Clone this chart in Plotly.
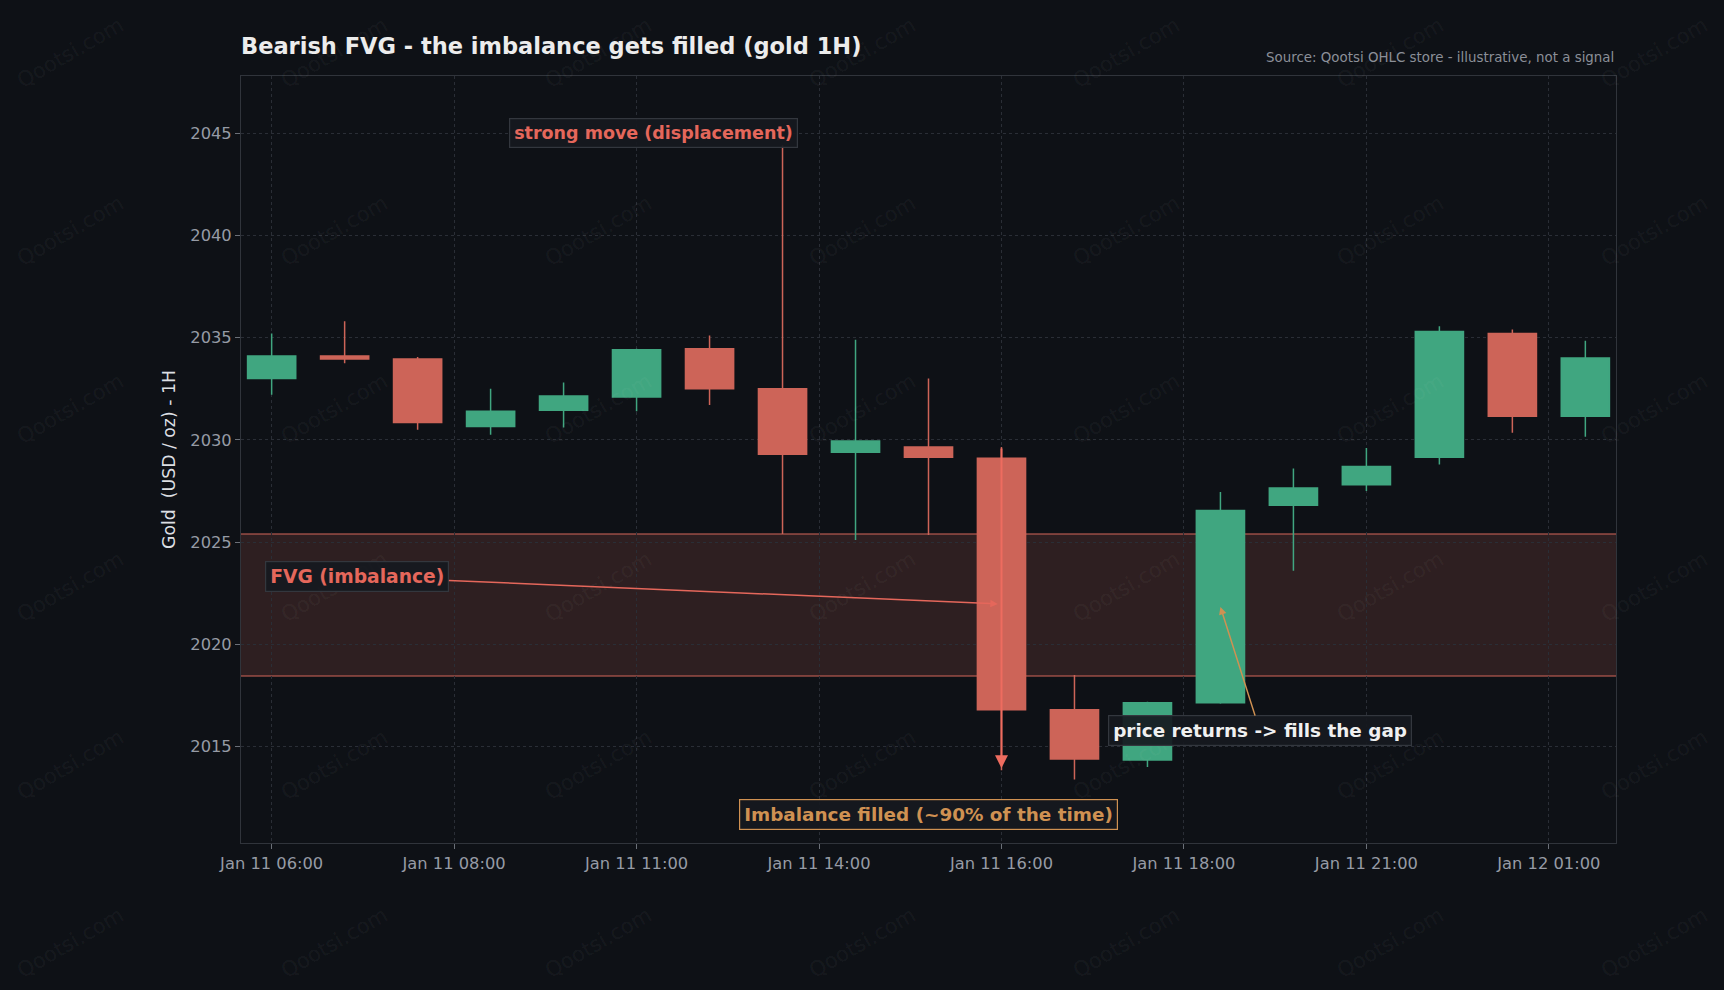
import plotly.graph_objects as go

# ---------------- data ----------------
candle_times = [
    "Jan 11 06:00", "Jan 11 07:00", "Jan 11 08:00", "Jan 11 09:00", "Jan 11 10:00",
    "Jan 11 11:00", "Jan 11 12:00", "Jan 11 13:00", "Jan 11 14:00", "Jan 11 15:00",
    "Jan 11 16:00", "Jan 11 17:00", "Jan 11 18:00", "Jan 11 19:00", "Jan 11 20:00",
    "Jan 11 21:00", "Jan 11 22:00", "Jan 11 23:00", "Jan 12 01:00",
]
open_ = [2033.0, 2034.1, 2033.95, 2030.65, 2031.45, 2032.1, 2034.45, 2032.5, 2029.4, 2029.65,
         2029.1, 2016.8, 2014.35, 2017.15, 2026.8, 2027.8, 2029.15, 2035.2, 2031.15]
high = [2035.2, 2035.8, 2034.05, 2032.5, 2032.8, 2034.45, 2035.1, 2044.4, 2034.9, 2033.0,
        2029.65, 2018.5, 2017.2, 2027.45, 2028.6, 2029.6, 2035.55, 2035.4, 2034.85]
low = [2032.2, 2033.75, 2030.5, 2030.25, 2030.6, 2031.4, 2031.7, 2025.4, 2025.1, 2025.35,
       2013.85, 2013.4, 2014.0, 2017.1, 2023.6, 2027.5, 2028.8, 2030.35, 2030.15]
close = [2034.1, 2033.95, 2030.85, 2031.4, 2032.15, 2034.4, 2032.5, 2029.3, 2029.95, 2029.15,
         2016.8, 2014.4, 2017.15, 2026.55, 2027.65, 2028.7, 2035.3, 2031.15, 2034.0]

tick_positions = [0, 2.5, 5, 7.5, 10, 12.5, 15, 17.5]
tick_labels = ["Jan 11 06:00", "Jan 11 08:00", "Jan 11 11:00", "Jan 11 14:00",
               "Jan 11 16:00", "Jan 11 18:00", "Jan 11 21:00", "Jan 12 01:00"]
y_ticks = [2015, 2020, 2025, 2030, 2035, 2040, 2045]

fvg_low, fvg_high = 2018.45, 2025.4
fvg_candle = 10
fill_target_candle = 13

# ---------------- style ----------------
BG = "#0e1116"
GREEN = "#40a680"
RED = "#cd6458"
RED_TXT = "#e5675b"
TAN = "#cf9152"
GRID = "#2a2e36"
AXLINE = "#30343b"
TICKTXT = "#969ba5"
FONT = "DejaVu Sans"

x = list(range(len(candle_times)))

fig = go.Figure()
fig.add_trace(go.Candlestick(
    x=x, open=open_, high=high, low=low, close=close,
    text=candle_times, hoverinfo="text",
    increasing=dict(line=dict(color=GREEN, width=1.5), fillcolor=GREEN),
    decreasing=dict(line=dict(color=RED, width=1.5), fillcolor=RED),
    whiskerwidth=0, showlegend=False,
))

# FVG zone
fig.add_shape(type="rect", xref="paper", x0=0, x1=1, yref="y", y0=fvg_low, y1=fvg_high,
              fillcolor="rgba(205,100,88,0.17)", line=dict(width=0), layer="below")
for yv in (fvg_low, fvg_high):
    fig.add_shape(type="line", xref="paper", x0=0, x1=1, yref="y", y0=yv, y1=yv,
                  line=dict(color="rgba(205,100,88,0.7)", width=1.5), layer="below")

annos = []
# watermarks
L, R, T, B = 241, 108, 76, 147
W, H = 1724, 990
pw, ph = W - L - R, H - T - B
for r in range(6):
    for c in range(7):
        px = 70 + 264 * c
        py = 53 + 178 * r
        annos.append(dict(
            text="Qootsi.com", xref="paper", yref="paper",
            x=(px - L) / pw, y=(H - B - py) / ph, xanchor="center", yanchor="middle",
            showarrow=False, textangle=-30,
            font=dict(family=FONT, size=21, color="rgba(255,255,255,0.055)"),
        ))

box_bg = "rgba(22,25,31,0.92)"
box_border = "#33373e"

annos.append(dict(
    text="<b>strong move (displacement)</b>", x=5.23, y=2045.0, xref="x", yref="y",
    showarrow=False, font=dict(family=FONT, size=17.5, color=RED_TXT),
    bgcolor=box_bg, bordercolor=box_border, borderwidth=1.2, borderpad=4,
))
annos.append(dict(
    text="<b>FVG (imbalance)</b>", x=9.95, y=2021.98, xref="x", yref="y",
    ax=1.176, ay=2023.32, axref="x", ayref="y", showarrow=True,
    arrowhead=2, arrowsize=1, arrowwidth=1.5, arrowcolor=RED_TXT,
    font=dict(family=FONT, size=18.7, color=RED_TXT),
    bgcolor=box_bg, bordercolor=box_border, borderwidth=1.2, borderpad=4,
))
annos.append(dict(
    text="", x=fvg_candle, y=2013.95, xref="x", yref="y",
    ax=fvg_candle, ay=high[fvg_candle], axref="x", ayref="y", showarrow=True,
    arrowhead=2, arrowsize=1.3, arrowwidth=2, arrowcolor="#ee6c5f", standoff=0, startstandoff=0,
))
annos.append(dict(
    text="<b>Imbalance filled (~90% of the time)</b>", x=9.0, y=2011.7, xref="x", yref="y",
    showarrow=False, font=dict(family=FONT, size=18.4, color=TAN),
    bgcolor=box_bg, bordercolor=TAN, borderwidth=1.2, borderpad=4,
))
annos.append(dict(
    text="<b>price returns -> fills the gap</b>", x=fill_target_candle, y=2021.83,
    xref="x", yref="y", ax=13.54, ay=2015.79, axref="x", ayref="y", showarrow=True,
    arrowhead=2, arrowsize=1, arrowwidth=1.5, arrowcolor=TAN,
    font=dict(family=FONT, size=18.4, color="#f0f0f0"),
    bgcolor=box_bg, bordercolor=box_border, borderwidth=1.2, borderpad=4,
))
annos.append(dict(
    text="Source: Qootsi OHLC store - illustrative, not a signal", xref="paper", yref="paper",
    x=1, y=(H - B - 57) / ph, xanchor="right", yanchor="middle", showarrow=False,
    font=dict(family=FONT, size=13.4, color="#8b8f98"),
))

axis_common = dict(
    showgrid=True, gridcolor=GRID, griddash="dot", gridwidth=1,
    showline=True, linecolor=AXLINE, linewidth=1, mirror=True,
    ticks="outside", ticklen=5, tickcolor="#6b7078", tickwidth=1,
    tickfont=dict(family=FONT, size=16.3, color=TICKTXT), zeroline=False,
)

fig.update_layout(
    width=W, height=H,
    paper_bgcolor=BG, plot_bgcolor=BG,
    margin=dict(l=L, r=R, t=T, b=B),
    title=dict(text="<b>Bearish FVG - the imbalance gets filled (gold 1H)</b>",
               xref="paper", x=0, xanchor="left", yref="container", y=1 - 46 / H,
               yanchor="middle", font=dict(family=FONT, size=22.5, color="#ececec")),
    xaxis=dict(range=[-0.42, 18.42], tickmode="array", tickvals=tick_positions,
               ticktext=tick_labels, rangeslider=dict(visible=False), **axis_common),
    yaxis=dict(range=[2010.29, 2047.79], tickmode="array", tickvals=y_ticks,
               title=dict(text="Gold \u00a0(USD / oz) - 1H", standoff=10,
                          font=dict(family=FONT, size=17.3, color="#dcdfe3")),
               **axis_common),
    annotations=annos,
    boxgap=0.34, boxgroupgap=0,
    showlegend=False,
    font=dict(family=FONT),
)

fig.write_html("out.html", config={"displayModeBar": False})
